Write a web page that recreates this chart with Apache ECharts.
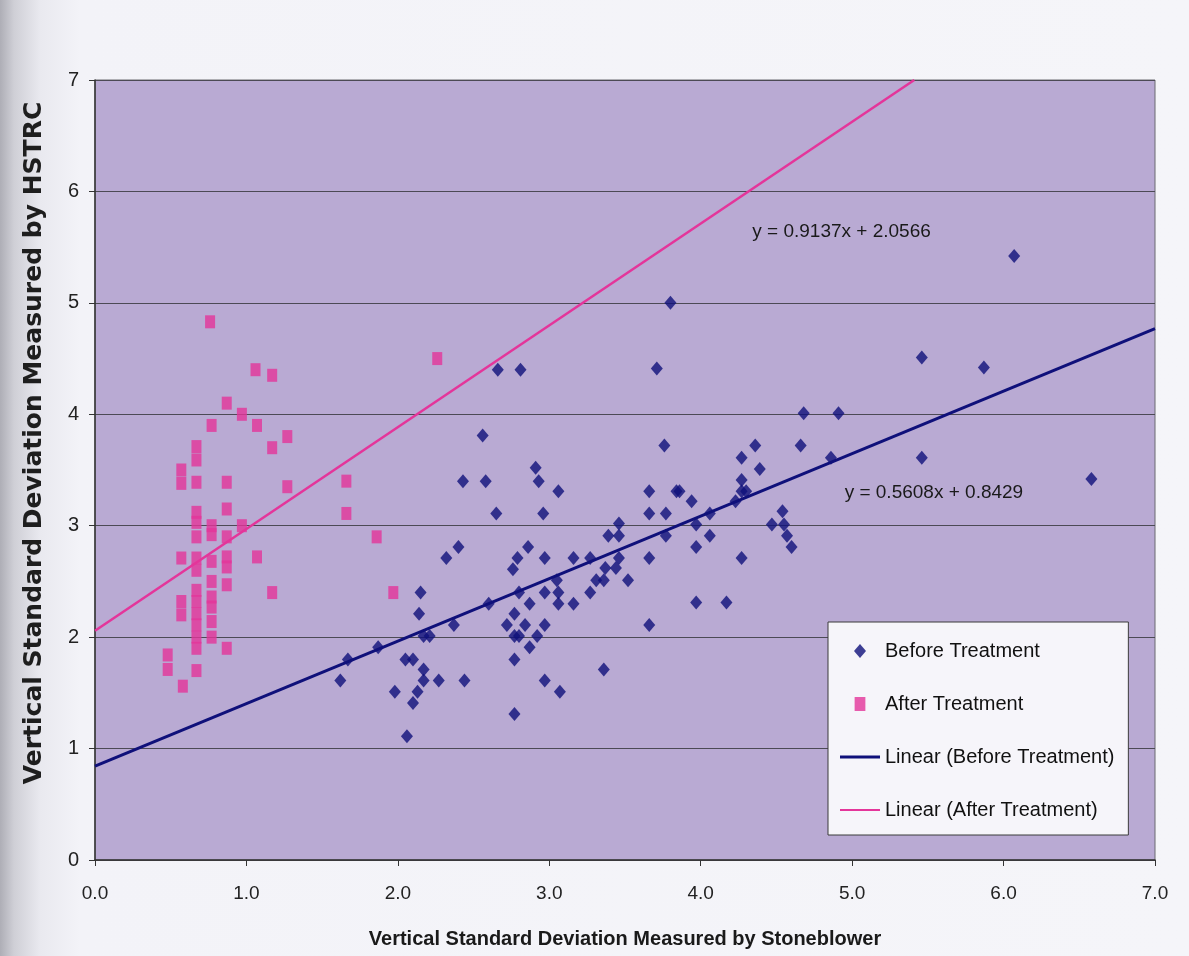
<!DOCTYPE html>
<html>
<head>
<meta charset="utf-8">
<script src="https://cdn.jsdelivr.net/npm/echarts@6/dist/echarts.min.js"></script>
<style>
  html, body { margin: 0; padding: 0; }
  body {
    width: 1189px; height: 956px; overflow: hidden;
    background: linear-gradient(to right, #aeaeb6 0px, #cfcfd6 14px, #e9e9ef 40px, #f3f3f8 80px, #f5f5f9 100%);
  }
  #chart { width: 1189px; height: 956px; }
</style>
</head>
<body>
<div id="chart"></div>
<script>
// ---- Data ----
const seriesNames = ['Before Treatment', 'After Treatment', 'Linear (Before Treatment)', 'Linear (After Treatment)'];

const beforeTreatment = [
  [2.66, 4.40], [2.81, 4.40], [2.56, 3.81], [2.43, 3.40], [2.58, 3.40], [2.91, 3.52], [2.93, 3.40],
  [3.06, 3.31], [2.65, 3.11], [2.96, 3.11], [3.46, 3.02], [3.39, 2.91], [3.46, 2.91], [2.86, 2.81],
  [2.40, 2.81], [2.32, 2.71], [2.79, 2.71], [2.97, 2.71], [3.16, 2.71], [3.27, 2.71], [3.46, 2.71],
  [3.44, 2.62], [3.37, 2.62], [2.76, 2.61], [3.05, 2.51], [3.31, 2.51], [3.36, 2.51], [3.52, 2.51],
  [2.15, 2.40], [2.80, 2.40], [3.06, 2.40], [2.97, 2.40], [3.27, 2.40], [2.60, 2.30], [2.87, 2.30],
  [3.06, 2.30], [3.16, 2.30], [2.14, 2.21], [2.77, 2.21], [2.37, 2.11], [2.72, 2.11], [2.84, 2.11],
  [2.97, 2.11], [2.17, 2.01], [2.21, 2.01], [2.77, 2.01], [2.80, 2.01], [2.92, 2.01], [1.87, 1.91],
  [2.87, 1.91], [1.67, 1.80], [2.05, 1.80], [2.10, 1.80], [2.77, 1.80], [2.17, 1.71], [3.36, 1.71],
  [1.62, 1.61], [2.17, 1.61], [2.27, 1.61], [2.44, 1.61], [2.97, 1.61], [1.98, 1.51], [2.13, 1.51],
  [3.07, 1.51], [2.10, 1.41], [2.77, 1.31], [2.06, 1.11],
  [3.80, 5.00], [3.71, 4.41], [5.46, 4.51], [4.68, 4.01], [4.91, 4.01], [3.76, 3.72], [4.66, 3.72],
  [4.36, 3.72], [4.27, 3.61], [4.39, 3.51], [4.86, 3.61], [5.46, 3.61], [3.66, 3.31], [3.84, 3.31],
  [3.86, 3.31], [4.27, 3.41], [4.27, 3.31], [4.30, 3.31], [3.94, 3.22], [4.23, 3.22], [3.66, 3.11],
  [3.77, 3.11], [4.06, 3.11], [3.97, 3.01], [4.47, 3.01], [4.54, 3.13], [4.55, 3.01], [4.57, 2.91],
  [4.60, 2.81], [3.77, 2.91], [4.06, 2.91], [3.97, 2.81], [3.66, 2.71], [4.27, 2.71], [3.97, 2.31],
  [4.17, 2.31], [3.66, 2.11],
  [6.07, 5.42], [5.87, 4.42], [6.58, 3.42]
];

const afterTreatment = [
  [0.76, 4.83], [1.06, 4.40], [1.17, 4.35], [0.87, 4.10], [0.97, 4.00], [0.77, 3.90], [1.07, 3.90],
  [1.27, 3.80], [1.17, 3.70], [0.67, 3.71], [0.67, 3.59], [0.57, 3.50], [0.57, 3.38], [0.67, 3.39],
  [0.87, 3.39], [1.27, 3.35], [1.66, 3.40], [1.66, 3.11], [0.87, 3.15], [0.67, 3.12], [0.67, 3.03],
  [0.67, 2.90], [0.77, 3.00], [0.77, 2.92], [0.97, 3.00], [0.87, 2.90], [1.86, 2.90], [0.57, 2.71],
  [0.67, 2.71], [0.67, 2.60], [0.77, 2.68], [0.87, 2.72], [0.87, 2.63], [1.07, 2.72], [0.77, 2.50],
  [0.87, 2.47], [1.17, 2.40], [1.97, 2.40], [0.57, 2.32], [0.57, 2.20], [0.67, 2.42], [0.67, 2.32],
  [0.67, 2.21], [0.67, 2.11], [0.67, 2.00], [0.67, 1.90], [0.77, 2.36], [0.77, 2.27], [0.77, 2.14],
  [0.77, 2.00], [0.87, 1.90], [0.48, 1.84], [0.48, 1.71], [0.67, 1.70], [0.58, 1.56], [2.26, 4.50]
];

// Trendline coefficients shown on the chart: [slope, intercept]
const trendBefore = [0.5608, 0.8429];
const trendAfter = [0.9137, 2.0566];
// Where the equation labels sit, in data units [x, y]
const labelBefore = [5.54, 3.30];
const labelAfter = [4.93, 5.64];

const xTicks = [0, 1, 2, 3, 4, 5, 6, 7];
const yTicks = [0, 1, 2, 3, 4, 5, 6, 7];

// ---- Build ----
const xMin = xTicks[0], xMax = xTicks[xTicks.length - 1];
const yMin = yTicks[0], yMax = yTicks[yTicks.length - 1];

function trendPoints(c) {
  const m = c[0], b = c[1];
  const xEnd = Math.min(xMax, (yMax - b) / m);
  return [[xMin, m * xMin + b], [xEnd, m * xEnd + b]];
}
function eqText(c) { return 'y = ' + c[0].toFixed(4) + 'x + ' + c[1].toFixed(4); }

const navy = '#0f107a';
const pink = '#e4359a';
const font = 'Liberation Sans, Arial, sans-serif';

const chart = echarts.init(document.getElementById('chart'), null, { renderer: 'canvas' });

const option = {
  backgroundColor: 'transparent',
  animation: false,
  grid: {
    left: 95, right: 34, top: 80, bottom: 96,
    outerBoundsMode: 'none', containLabel: false,
    show: true, backgroundColor: '#b9aad3', borderColor: '#6a6a70', borderWidth: 1
  },
  xAxis: {
    type: 'value', min: xMin, max: xMax, interval: 1,
    name: 'Vertical Standard Deviation Measured by Stoneblower',
    nameLocation: 'middle', nameGap: 69,
    nameTextStyle: { fontFamily: font, fontSize: 20, fontWeight: 'bold', color: '#1a1a1a' },
    axisLine: { show: true, lineStyle: { color: '#333', width: 1.5 } },
    axisTick: { show: true, length: 6, lineStyle: { color: '#333' } },
    axisLabel: { fontFamily: font, fontSize: 19, color: '#222', margin: 24, formatter: v => v.toFixed(1) },
    splitLine: { show: false }
  },
  yAxis: {
    type: 'value', min: yMin, max: yMax, interval: 1,
    name: 'Vertical Standard Deviation Measured by HSTRC',
    nameLocation: 'middle', nameGap: 48,
    nameTextStyle: { fontFamily: 'DejaVu Sans, Liberation Sans, sans-serif', fontSize: 25, fontWeight: 'bold',
                     color: '#1e1e1e', padding: [0, 0, 0, 54] },
    axisLine: { show: true, lineStyle: { color: '#333', width: 1.5 } },
    axisTick: { show: true, length: 6, lineStyle: { color: '#333' } },
    axisLabel: { fontFamily: font, fontSize: 20, color: '#222', margin: 16 },
    splitLine: { show: true, lineStyle: { color: '#4c4a55', width: 1 } }
  },
  legend: {
    orient: 'vertical', left: 828, top: 622,
    backgroundColor: '#f6f5fa', borderColor: '#3a3a3a', borderWidth: 1,
    padding: [19, 14, 15, 12], itemGap: 33, itemWidth: 40, itemHeight: 14,
    selectedMode: false,
    textStyle: { fontFamily: font, fontSize: 20, lineHeight: 20, color: '#111' },
    data: [
      { name: seriesNames[0], icon: 'path://M6,0L12,7L6,14L0,7Z' },
      { name: seriesNames[1], icon: 'path://M0,0H10V13H0Z' },
      { name: seriesNames[2], icon: 'path://M0,0H40V3H0Z' },
      { name: seriesNames[3], icon: 'path://M0,0H40V2H0Z' }
    ]
  },
  series: [
    {
      name: seriesNames[0], type: 'scatter', data: beforeTreatment,
      symbol: 'diamond', symbolSize: [12, 14], itemStyle: { color: navy }, z: 3
    },
    {
      name: seriesNames[1], type: 'scatter', data: afterTreatment,
      symbol: 'rect', symbolSize: [10, 13], itemStyle: { color: pink }, z: 3
    },
    {
      name: seriesNames[2], type: 'line', data: trendPoints(trendBefore),
      symbol: 'none', lineStyle: { color: navy, width: 3 }, itemStyle: { color: navy }, z: 4,
      markPoint: {
        symbol: 'circle', symbolSize: 0, silent: true,
        label: { show: true, position: 'inside', formatter: eqText(trendBefore),
                 fontFamily: font, fontSize: 19, color: '#1a1a1a' },
        data: [{ coord: labelBefore }]
      }
    },
    {
      name: seriesNames[3], type: 'line', data: trendPoints(trendAfter),
      symbol: 'none', lineStyle: { color: pink, width: 2.5 }, itemStyle: { color: pink }, z: 4,
      markPoint: {
        symbol: 'circle', symbolSize: 0, silent: true,
        label: { show: true, position: 'inside', formatter: eqText(trendAfter),
                 fontFamily: font, fontSize: 19, color: '#1a1a1a' },
        data: [{ coord: labelAfter }]
      }
    }
  ]
};

chart.setOption(option);
</script>
</body>
</html>
